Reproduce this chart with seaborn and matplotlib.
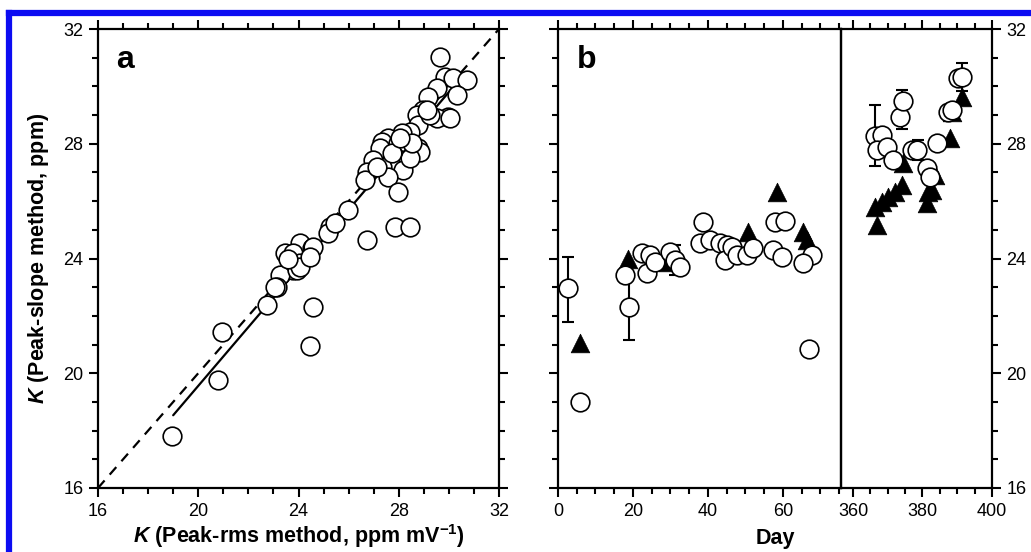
import numpy as np
import pandas as pd
import matplotlib.pyplot as plt
import seaborn as sns
from matplotlib.ticker import MultipleLocator
from matplotlib.lines import Line2D

# panel a: K from peak-rms method vs K from peak-slope method
k_rms = [29.65, 29.85, 30.17, 30.72, 30.33, 29.53, 29.17, 29.97, 29.53, 28.97,
         28.73, 28.77, 28.45, 28.77, 28.13, 27.57, 27.33, 27.25, 27.97, 27.85,
         27.65, 27.33, 26.97, 26.73, 26.65, 28.17, 27.57, 27.97, 27.85, 28.45,
         26.73, 25.98, 25.26, 25.18, 24.06, 24.54, 23.46, 23.78, 24.06, 23.78,
         23.26, 23.94, 23.14, 22.74, 24.58, 20.95, 24.46, 20.79, 18.95, 24.58,
         24.06, 24.46, 23.06, 29.25, 30.05, 29.13, 28.85, 28.45, 27.13, 27.73,
         28.53, 25.46, 28.05, 23.60]
k_slope = [31.02, 30.33, 30.29, 30.22, 29.70, 29.94, 29.63, 28.93, 28.90, 29.17,
           29.00, 28.65, 28.41, 27.85, 28.37, 28.20, 28.06, 27.85, 28.02, 27.54,
           27.33, 27.19, 27.43, 27.01, 26.74, 27.08, 26.84, 26.32, 25.10, 25.10,
           24.64, 25.69, 25.10, 24.89, 24.54, 24.36, 24.19, 24.19, 23.84, 23.60,
           23.42, 23.60, 23.00, 22.38, 22.31, 21.44, 20.95, 19.76, 17.81, 24.40,
           23.70, 24.05, 23.00, 29.00, 28.90, 29.17, 27.71, 27.50, 27.19, 27.68,
           28.02, 25.24, 28.20, 24.00]
fit_slope = 1.024
fit_intercept = -0.92
fit_range = [19.0, 30.64]
one_to_one = [16, 32]

# panel b: K vs day, two sensors
day_circ = [2.7, 5.9, 17.9, 18.9, 23.7, 22.4, 24.5, 25.9, 29.9, 31.2, 32.5,
            38.7, 37.9, 40.5, 43.2, 45.1, 44.5, 46.4, 47.7, 50.4, 52.0,
            57.9, 60.5, 57.3, 59.7, 67.7, 65.3, 66.9,
            366.3, 368.3, 366.9, 369.8, 371.5, 373.5, 374.4, 377.0, 378.4,
            381.3, 382.2, 384.2, 387.4, 388.5, 390.2, 391.4]
k_circ = [22.97, 19.00, 23.42, 22.30, 23.49, 24.19, 24.12, 23.88, 24.22, 23.95, 23.70,
          25.27, 24.54, 24.64, 24.54, 24.47, 23.95, 24.40, 24.12, 24.12, 24.36,
          25.27, 25.31, 24.30, 24.05, 24.12, 23.84, 20.84,
          28.28, 28.30, 27.78, 27.89, 27.43, 28.93, 29.50, 27.78, 27.78,
          27.15, 26.84, 28.02, 29.10, 29.17, 30.29, 30.33]
day_tri = [5.9, 18.7, 29.3, 50.7, 58.4, 65.3, 66.4,
           366.3, 366.9, 368.3, 370.1, 372.1, 374.1, 374.4, 381.3, 381.6,
           382.7, 383.6, 387.9, 388.5, 391.4]
k_tri = [21.05, 24.00, 23.88, 24.92, 26.32, 24.92, 24.64,
         25.80, 25.17, 25.97, 26.14, 26.32, 26.56, 27.33, 25.93, 26.32,
         26.39, 26.91, 28.20, 29.10, 29.63]
err_day = [2.7, 18.9, 31.2, 366.3, 374.1, 378.6, 391.3]
err_k = [22.92, 22.30, 23.95, 28.28, 29.20, 27.78, 30.33]
err_sd = [1.13, 1.14, 0.52, 1.07, 0.67, 0.35, 0.48]

df_a = pd.DataFrame({"rms": k_rms, "slope": k_slope})
df_c = pd.DataFrame({"day": day_circ, "k": k_circ})
df_t = pd.DataFrame({"day": day_tri, "k": k_tri})

sns.set_theme(style="ticks")
plt.rcParams['font.family'] = ['Liberation Sans', 'DejaVu Sans']
plt.rcParams['mathtext.fontset'] = 'custom'
plt.rcParams['mathtext.rm'] = 'Liberation Sans:bold'
plt.rcParams['mathtext.it'] = 'Liberation Sans:italic:bold'
plt.rcParams['mathtext.bf'] = 'Liberation Sans:bold'
for key in ['text.color', 'axes.labelcolor', 'xtick.color', 'ytick.color', 'axes.edgecolor']:
    plt.rcParams[key] = 'black'

fig = plt.figure(figsize=(10.31, 5.52), dpi=100)
bot, hgt = 64 / 552, 459 / 552
ax_a = fig.add_axes([98 / 1031, bot, 401 / 1031, hgt])
ax_b2 = fig.add_axes([841 / 1031, bot, 151 / 1031, hgt])
ax_b1 = fig.add_axes([558 / 1031, bot, 283 / 1031, hgt])

circ_kw = dict(marker="o", s=180, color="white", edgecolor="black", linewidth=1.2, zorder=4)
tri_kw = dict(marker="^", s=180, color="black", edgecolor="black", linewidth=0.5, zorder=3)

# panel a
ax_a.plot(one_to_one, one_to_one, color="black", lw=1.6, dashes=(4.5, 3.5), zorder=2)
fx = np.array(fit_range)
ax_a.plot(fx, fit_slope * fx + fit_intercept, color="black", lw=1.6, zorder=2)
sns.scatterplot(data=df_a, x="rms", y="slope", ax=ax_a, **circ_kw)
ax_a.set_xlim(16, 32)
ax_a.set_ylim(16, 32)
ax_a.set_xlabel(r"$\mathit{K}$ (Peak-rms method, ppm mV$^{\mathbf{-1}}$)",
                fontsize=15.5, fontweight="bold", labelpad=2)
ax_a.set_ylabel(r"$\mathit{K}$ (Peak-slope method, ppm)", fontsize=15.5,
                fontweight="bold", labelpad=9)
ax_a.text(0.045, 0.965, "a", transform=ax_a.transAxes, va="top", ha="left",
          fontsize=23, fontweight="bold")

# panel b (broken day axis)
for ax in (ax_b1, ax_b2):
    ax.errorbar(err_day, err_k, yerr=err_sd, fmt="none", ecolor="black",
                elinewidth=1.5, capsize=4.5, capthick=1.5, zorder=2)
    sns.scatterplot(data=df_t, x="day", y="k", ax=ax, **tri_kw)
    sns.scatterplot(data=df_c, x="day", y="k", ax=ax, **circ_kw)
    ax.set_ylim(16, 32)
    ax.set_xlabel("")
    ax.set_ylabel("")
ax_b1.set_xlim(0, 75.47)
ax_b2.set_xlim(356.55, 400)
ax_b1.patch.set_visible(False)
ax_b1.text(0.065, 0.965, "b", transform=ax_b1.transAxes, va="top", ha="left",
           fontsize=23, fontweight="bold")
fig.text(775 / 1031, 0.005, "Day", ha="center", va="bottom", fontsize=15.5, fontweight="bold")

for ax in (ax_a, ax_b1, ax_b2):
    for s in ax.spines.values():
        s.set_linewidth(1.6)
    ax.yaxis.set_major_locator(MultipleLocator(4))
    ax.yaxis.set_minor_locator(MultipleLocator(1))
    ax.tick_params(which="both", direction="out", top=True, right=True,
                   width=1.5, labelsize=13, colors="black", pad=4)
    ax.tick_params(which="major", length=6.5)
    ax.tick_params(which="minor", length=4.5)

ax_a.xaxis.set_major_locator(MultipleLocator(4))
ax_a.xaxis.set_minor_locator(MultipleLocator(1))

for ax in (ax_b1, ax_b2):
    ax.xaxis.set_major_locator(MultipleLocator(20))
    ax.xaxis.set_minor_locator(MultipleLocator(5))

ax_b1.tick_params(which="both", right=False, labelleft=False)
ax_b2.tick_params(which="both", left=False, labelleft=False, right=True, labelright=True)

# blue frame around the figure
blue = "#0c0cf2"
ytop = 1 - 12.5 / 552
xl = 8.5 / 1031
fig.add_artist(Line2D([xl, 1.01], [ytop, ytop], color=blue, lw=4.5,
                      solid_capstyle="projecting", transform=fig.transFigure))
fig.add_artist(Line2D([xl, xl], [-0.01, ytop], color=blue, lw=4.5,
                      solid_capstyle="projecting", transform=fig.transFigure))

fig.savefig("out.png", dpi=100)
